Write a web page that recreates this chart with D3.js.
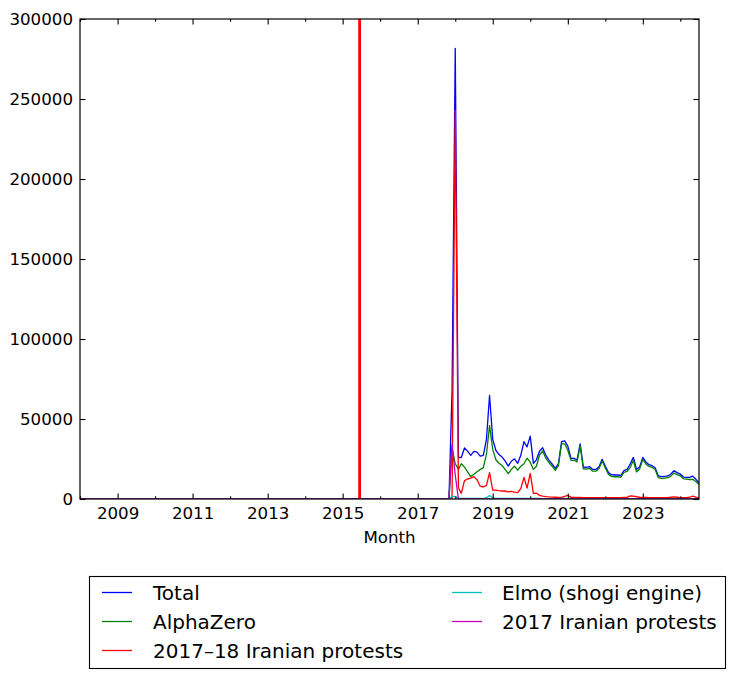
<!DOCTYPE html>
<html><head><meta charset="utf-8">
<script src="https://cdn.jsdelivr.net/npm/d3@7"></script>
<style>
body{margin:0;background:#fff}
svg{display:block}
text{font-family:"DejaVu Sans",sans-serif;fill:#000}
</style>
</head><body>
<svg id="chart" width="734" height="679"></svg>
<script>
// ---------------- data ----------------
const firstMonth = "2008-01-01";
const lastMonth = "2024-07-01";
const markerDate = "2015-06-15";           // red vertical marker
const yTicks = [0, 50000, 100000, 150000, 200000, 250000, 300000];
const xMajorYears = [2009, 2011, 2013, 2015, 2017, 2019, 2021, 2023];
const xMinorYears = [2008, 2010, 2012, 2014, 2016, 2018, 2020, 2022, 2024];
const seriesNames = ["Total", "AlphaZero", "2017\u201318 Iranian protests", "Elmo (shogi engine)", "2017 Iranian protests"];
const seriesColors = ["#0000ff", "#008000", "#ff0000", "#00bfbf", "#bf00bf"];

// Jan 2008 – Oct 2017: every series is flat at zero (118 months)
const preZeros = [
0,0,0,0,0,0,0,0,0,0,0,0, 0,0,0,0,0,0,0,0,0,0,0,0, 0,0,0,0,0,0,0,0,0,0,0,0,
0,0,0,0,0,0,0,0,0,0,0,0, 0,0,0,0,0,0,0,0,0,0,0,0, 0,0,0,0,0,0,0,0,0,0,0,0,
0,0,0,0,0,0,0,0,0,0,0,0, 0,0,0,0,0,0,0,0,0,0,0,0, 0,0,0,0,0,0,0,0,0,0,0,0,
0,0,0,0,0,0,0,0,0,0];

// Nov 2017 – Jul 2024
const totalRecent = [0, 68000,
 281700, 26100, 25900, 31900, 29900, 27300, 29800, 29300, 26800, 27300, 37300, 64700,
 37300, 30300, 28000, 26300, 23800, 20600, 23600, 25100, 22300, 27300, 35800, 32600,
 39300, 22300, 24500, 30000, 32000, 27200, 24300, 21900, 19200, 22000, 35800, 36400,
 33000, 25400, 25400, 24400, 34400, 20000, 19800, 20200, 18500, 18500, 20200, 24800,
 20500, 16500, 15200, 15000, 15000, 14700, 17800, 18500, 22000, 26000, 18500, 20000,
 26000, 23000, 21500, 20800, 19500, 14400, 14000, 14200, 14400, 15600, 17700, 16500,
 15600, 13700, 13500, 13500, 14300, 12300, 10200];
const alphaZeroRecent = [0, 32000,
 22000, 18500, 22000, 20000, 17000, 14000, 15500, 17000, 18500, 19500, 28000, 46000,
 31000, 24500, 22500, 21000, 18500, 15800, 18500, 20500, 18000, 20500, 22000, 25500,
 23000, 18500, 20500, 27500, 30000, 25500, 22800, 20500, 17900, 20800, 34500, 34500,
 30500, 24200, 24200, 23200, 33200, 18900, 18700, 19100, 17400, 17400, 19100, 23700,
 19400, 15400, 14100, 13900, 13900, 13600, 16600, 17300, 19800, 24000, 16900, 18700,
 24800, 21800, 20400, 19700, 18400, 13300, 12900, 13100, 13300, 14300, 16200, 15200,
 14500, 12600, 12400, 12200, 12300, 10900, 9100];
const iran1718Recent = [0, 500,
 243000, 7000, 3500, 11500, 12500, 13000, 14000, 12000, 8000, 7500, 8500, 16500,
 5500, 5500, 5200, 5000, 5000, 4500, 4800, 4300, 4000, 6500, 13500, 6800,
 16000, 3500, 3700, 2200, 1800, 1500, 1300, 1200, 1100, 1000, 1000, 1600,
 2300, 1000, 1000, 1000, 1000, 900, 900, 900, 900, 900, 900, 900,
 900, 900, 900, 900, 900, 900, 1000, 1000, 2000, 1800, 1400, 1100,
 1000, 1000, 900, 900, 900, 900, 900, 900, 900, 1100, 1300, 1100,
 900, 900, 900, 1100, 1800, 1200, 900];
const elmoRecent = [0, 1800,
 1500, 600, 400, 400, 400, 300, 300, 300, 300, 300, 800, 2200,
 800, 300, 300, 300, 300, 300, 300, 300, 300, 300, 300, 300,
 300, 300, 300, 300, 200, 200, 200, 200, 200, 200, 300, 300,
 200, 200, 200, 200, 200, 200, 200, 200, 200, 200, 200, 200,
 200, 200, 200, 200, 200, 200, 200, 200, 200, 200, 200, 200,
 200, 200, 200, 200, 200, 200, 200, 200, 200, 200, 200, 200,
 200, 200, 200, 200, 200, 200, 200];
const iran2017Recent = [0, 34000,
 15000, 0, 0, 0, 0, 0, 0, 0, 0, 0, 0, 0,
 0, 0, 0, 0, 0, 0, 0, 0, 0, 0, 0, 0,
 0, 0, 0, 0, 0, 0, 0, 0, 0, 0, 0, 0,
 0, 0, 0, 0, 0, 0, 0, 0, 0, 0, 0, 0,
 0, 0, 0, 0, 0, 0, 0, 0, 0, 0, 0, 0,
 0, 0, 0, 0, 0, 0, 0, 0, 0, 0, 0, 0,
 0, 0, 0, 0, 0, 0, 0];

const totalValues = preZeros.concat(totalRecent);
const alphaZeroValues = preZeros.concat(alphaZeroRecent);
const iran1718Values = preZeros.concat(iran1718Recent);
const elmoValues = preZeros.concat(elmoRecent);
const iran2017Values = preZeros.concat(iran2017Recent);
const seriesValues = [totalValues, alphaZeroValues, iran1718Values, elmoValues, iran2017Values];

// ---------------- layout ----------------
const L = 80, R = 699, T = 19, B = 499;
const parse = d3.utcParse("%Y-%m-%d");
const t0 = parse(firstMonth), t1 = parse(lastMonth);
const months = d3.utcMonth.range(t0, d3.utcMonth.offset(t1, 1));

const x = d3.scaleUtc().domain([t0, t1]).range([L, R]);
const y = d3.scaleLinear().domain([0, 300000]).range([B, T]);

const svg = d3.select("#chart");
svg.append("rect").attr("width", 734).attr("height", 679).attr("fill", "#fff");

svg.append("defs").append("clipPath").attr("id", "clip")
  .append("rect").attr("x", L).attr("y", T).attr("width", R - L).attr("height", B - T);

const plot = svg.append("g").attr("clip-path", "url(#clip)");
const line = d3.line().x((d, i) => x(months[i])).y(d => y(d));

seriesValues.forEach((vals, i) => {
  plot.append("path").datum(vals)
    .attr("fill", "none").attr("stroke", seriesColors[i])
    .attr("stroke-width", 1.3).attr("stroke-linejoin", "round")
    .attr("d", line);
});

plot.append("line")
  .attr("x1", x(parse(markerDate))).attr("x2", x(parse(markerDate)))
  .attr("y1", T).attr("y2", B)
  .attr("stroke", "#ff0000").attr("stroke-width", 2.8);

// axes
const yearDate = yr => parse(yr + "-01-01");
const fs = "16.67px";
const major = 5.6, minor = 2.8;

const gxB = svg.append("g").attr("transform", `translate(0,${B})`)
  .call(d3.axisBottom(x).tickValues(xMajorYears.map(yearDate))
    .tickFormat(d3.utcFormat("%Y")).tickSizeInner(-major).tickSizeOuter(0).tickPadding(8));
const gxBm = svg.append("g").attr("transform", `translate(0,${B})`)
  .call(d3.axisBottom(x).tickValues(xMinorYears.map(yearDate))
    .tickFormat("").tickSizeInner(-minor).tickSizeOuter(0));
const gxT = svg.append("g").attr("transform", `translate(0,${T})`)
  .call(d3.axisTop(x).tickValues(xMajorYears.map(yearDate))
    .tickFormat("").tickSizeInner(-major).tickSizeOuter(0));
const gxTm = svg.append("g").attr("transform", `translate(0,${T})`)
  .call(d3.axisTop(x).tickValues(xMinorYears.map(yearDate))
    .tickFormat("").tickSizeInner(-minor).tickSizeOuter(0));
const gyL = svg.append("g").attr("transform", `translate(${L},0)`)
  .call(d3.axisLeft(y).tickValues(yTicks).tickFormat(d3.format("d"))
    .tickSizeInner(-major).tickSizeOuter(0).tickPadding(7));
const gyR = svg.append("g").attr("transform", `translate(${R},0)`)
  .call(d3.axisRight(y).tickValues(yTicks).tickFormat("")
    .tickSizeInner(-major).tickSizeOuter(0));

[gxB, gxBm, gxT, gxTm, gyL, gyR].forEach(g => {
  g.select(".domain").remove();
  g.selectAll(".tick line").attr("stroke", "#000").attr("stroke-width", 1.1);
  g.selectAll(".tick text").attr("font-family", "DejaVu Sans").attr("font-size", fs).attr("fill", "#000");
});

// frame
svg.append("rect").attr("x", L).attr("y", T).attr("width", R - L).attr("height", B - T)
  .attr("fill", "none").attr("stroke", "#000").attr("stroke-width", 1.2);

// x label
svg.append("text").attr("x", (L + R) / 2).attr("y", 543)
  .attr("text-anchor", "middle").attr("font-size", fs).text("Month");

// legend
const lg = svg.append("g");
lg.append("rect").attr("x", 89.5).attr("y", 576.5).attr("width", 636).attr("height", 92)
  .attr("fill", "#fff").attr("stroke", "#000").attr("stroke-width", 1.1);
const colX = [102, 452], textX = [153, 502], rowY = [592.5, 621.5, 650.5];
seriesNames.forEach((name, i) => {
  const c = i < 3 ? 0 : 1, r = i < 3 ? i : i - 3;
  lg.append("line").attr("x1", colX[c]).attr("x2", colX[c] + 30)
    .attr("y1", rowY[r]).attr("y2", rowY[r])
    .attr("stroke", seriesColors[i]).attr("stroke-width", 1.3);
  lg.append("text").attr("x", textX[c]).attr("y", rowY[r] + 7.2)
    .attr("font-size", "20px").text(name);
});
</script>
</body></html>
